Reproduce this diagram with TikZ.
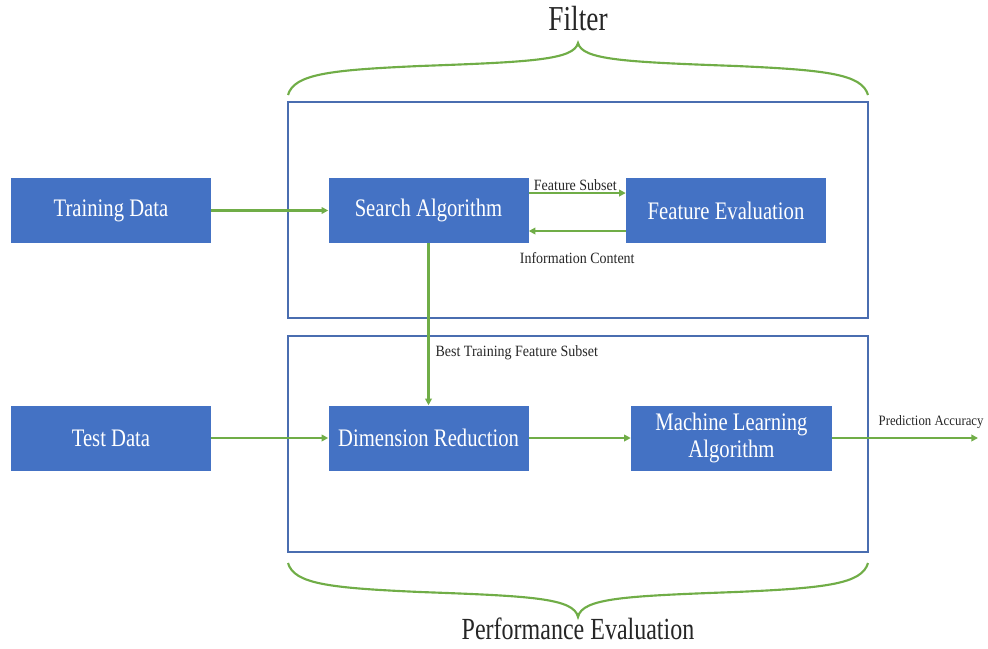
\documentclass[tikz,border=0pt]{standalone}
\usepackage{graphicx}
\usepackage{fontspec}
\setmainfont{Liberation Serif}
\usetikzlibrary{arrows.meta}
\definecolor{boxblue}{HTML}{4472C4}
\definecolor{frameblue}{HTML}{4A6DB0}
\definecolor{arrgreen}{HTML}{70AD47}
\definecolor{txtgray}{HTML}{262626}
\newcommand{\tallb}[1]{\scalebox{1}[1.22]{#1}}
\newcommand{\tallt}[1]{\scalebox{1}[1.28]{#1}}
\newcommand{\talll}[1]{\scalebox{1}[1.12]{#1}}
\tikzset{
  blk/.style={draw=none, fill=boxblue, text=white, minimum width=150pt, minimum height=48.75pt,
    inner sep=0pt, font=\fontsize{15.5}{17}\selectfont, align=center},
  frm/.style={draw=frameblue, line width=1.5pt, minimum width=435pt, minimum height=162pt, inner sep=0pt},
  arr/.style={draw=arrgreen, line width=1.6pt, -{Triangle[length=5pt,width=5pt]}},
  brc/.style={draw=arrgreen, line width=1.6pt},
  lbl/.style={text=txtgray, font=\fontsize{10.5}{12}\selectfont, inner sep=1pt},
  ttl/.style={text=txtgray, inner sep=0pt, anchor=base}
}
\begin{document}
\begin{tikzpicture}[x=0.75pt,y=-0.75pt]
\useasboundingbox (0,0) rectangle (988,649);
% frames
\node[frm] (filterbox) at (578,210) {};
\node[frm] (perfbox) at (578,444) {};
% blocks
\node[blk] (train) at (111,210.5) {\tallb{Training Data}};
\node[blk] (search) at (428.5,210.5) {\tallb{Search Algorithm}};
\node[blk] (feval) at (726,210.5) {\tallb{Feature Evaluation}};
\node[blk] (test) at (111,438) {\tallb{Test Data}};
\node[blk] (dimred) at (428.5,438) {\tallb{Dimension Reduction}};
\node[blk, minimum width=150.75pt] (ml) at (731.5,438) {\tallb{Machine Learning}\\[2pt]\tallb{Algorithm}};
\coordinate (out) at (978,438);
% connectors
\draw[arr] (train) -- (search);
\draw[arr] ([yshift=13.1pt]search.east) -- node[lbl, above, pos=0.48] (fs) {\talll{Feature Subset}} ([yshift=13.1pt]feval.west);
\draw[arr] ([yshift=-15.4pt]feval.west) -- node[lbl, anchor=north, yshift=-14pt, pos=0.5] (ic) {\talll{Information Content}} ([yshift=-15.4pt]search.east);
\draw[arr] (search.south) -- (dimred.north);
\node[lbl, anchor=west] (btfs) at (434,353) {\talll{Best Training Feature Subset}};
\draw[arr] (test) -- (dimred);
\draw[arr] (dimred) -- (ml);
\draw[arr] (ml) -- node[lbl, anchor=south west, pos=0, xshift=33pt, yshift=5pt, font=\fontsize{9.6}{12}\selectfont] (pa) {\talll{Prediction Accuracy}} (out);
% braces
\coordinate (tl) at (288,95);
\coordinate (tr) at (868,95);
\coordinate (tt) at (578,43);
\draw[brc] (tl) .. controls (294,74) and (330,70) .. (420,66)
  .. controls (530,62) and (574,60) .. (tt)
  .. controls (582,60) and (626,62) .. (736,66)
  .. controls (826,70) and (862,74) .. (tr);
\coordinate (bl) at (288,563);
\coordinate (br) at (868,563);
\coordinate (bt) at (578,617);
\draw[brc] (bl) .. controls (294,584) and (330,588) .. (420,592)
  .. controls (530,596) and (574,598) .. (bt)
  .. controls (582,598) and (626,596) .. (736,592)
  .. controls (826,588) and (862,584) .. (br);
\node[ttl, font=\fontsize{20.5}{24}\selectfont] (filt) at (578,31) {\tallt{Filter}};
\node[ttl, font=\fontsize{18}{21}\selectfont] (perf) at (578,639) {\tallt{Performance Evaluation}};
\end{tikzpicture}
\end{document}
